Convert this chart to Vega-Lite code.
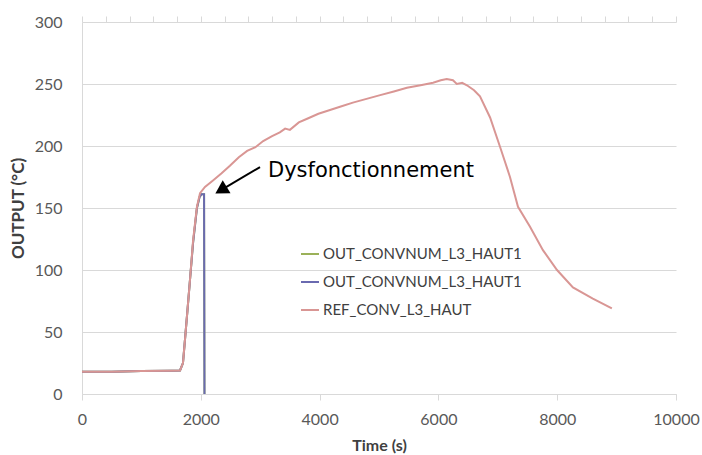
{
  "$schema": "https://vega.github.io/schema/vega-lite/v6.json",
  "width": 594,
  "height": 372,
  "autosize": "none",
  "padding": {"left": 82, "top": 22, "right": 26, "bottom": 61},
  "background": "white",
  "config": {
    "view": {"stroke": null},
    "font": "Lato"
  },
  "resolve": {"axis": {"x": "independent"}},
  "datasets": {
    "series": [
      {"serie": "OUT_CONVNUM_L3_HAUT1 (a)", "t": 0, "v": 18},
      {"serie": "OUT_CONVNUM_L3_HAUT1 (a)", "t": 500, "v": 18},
      {"serie": "OUT_CONVNUM_L3_HAUT1 (a)", "t": 1000, "v": 18.5},
      {"serie": "OUT_CONVNUM_L3_HAUT1 (a)", "t": 1500, "v": 18.8},
      {"serie": "OUT_CONVNUM_L3_HAUT1 (a)", "t": 1650, "v": 19},
      {"serie": "OUT_CONVNUM_L3_HAUT1 (a)", "t": 1700, "v": 25},
      {"serie": "OUT_CONVNUM_L3_HAUT1 (a)", "t": 1734, "v": 44},
      {"serie": "OUT_CONVNUM_L3_HAUT1 (a)", "t": 1780, "v": 70},
      {"serie": "OUT_CONVNUM_L3_HAUT1 (a)", "t": 1818, "v": 92},
      {"serie": "OUT_CONVNUM_L3_HAUT1 (a)", "t": 1870, "v": 122},
      {"serie": "OUT_CONVNUM_L3_HAUT1 (a)", "t": 1935, "v": 150},
      {"serie": "OUT_CONVNUM_L3_HAUT1 (a)", "t": 1980, "v": 159},
      {"serie": "OUT_CONVNUM_L3_HAUT1 (a)", "t": 2010, "v": 161},
      {"serie": "OUT_CONVNUM_L3_HAUT1 (a)", "t": 2055, "v": 161},
      {"serie": "OUT_CONVNUM_L3_HAUT1 (a)", "t": 2062, "v": 0},
      {"serie": "OUT_CONVNUM_L3_HAUT1 (b)", "t": 0, "v": 18},
      {"serie": "OUT_CONVNUM_L3_HAUT1 (b)", "t": 500, "v": 18},
      {"serie": "OUT_CONVNUM_L3_HAUT1 (b)", "t": 1000, "v": 18.5},
      {"serie": "OUT_CONVNUM_L3_HAUT1 (b)", "t": 1500, "v": 18.8},
      {"serie": "OUT_CONVNUM_L3_HAUT1 (b)", "t": 1650, "v": 19},
      {"serie": "OUT_CONVNUM_L3_HAUT1 (b)", "t": 1700, "v": 25},
      {"serie": "OUT_CONVNUM_L3_HAUT1 (b)", "t": 1734, "v": 44},
      {"serie": "OUT_CONVNUM_L3_HAUT1 (b)", "t": 1780, "v": 70},
      {"serie": "OUT_CONVNUM_L3_HAUT1 (b)", "t": 1818, "v": 92},
      {"serie": "OUT_CONVNUM_L3_HAUT1 (b)", "t": 1870, "v": 122},
      {"serie": "OUT_CONVNUM_L3_HAUT1 (b)", "t": 1935, "v": 150},
      {"serie": "OUT_CONVNUM_L3_HAUT1 (b)", "t": 1980, "v": 159},
      {"serie": "OUT_CONVNUM_L3_HAUT1 (b)", "t": 2010, "v": 161},
      {"serie": "OUT_CONVNUM_L3_HAUT1 (b)", "t": 2055, "v": 161},
      {"serie": "OUT_CONVNUM_L3_HAUT1 (b)", "t": 2062, "v": 0},
      {"serie": "REF_CONV_L3_HAUT", "t": 0, "v": 18},
      {"serie": "REF_CONV_L3_HAUT", "t": 500, "v": 18},
      {"serie": "REF_CONV_L3_HAUT", "t": 1000, "v": 18.5},
      {"serie": "REF_CONV_L3_HAUT", "t": 1500, "v": 18.8},
      {"serie": "REF_CONV_L3_HAUT", "t": 1650, "v": 19},
      {"serie": "REF_CONV_L3_HAUT", "t": 1700, "v": 25},
      {"serie": "REF_CONV_L3_HAUT", "t": 1734, "v": 44},
      {"serie": "REF_CONV_L3_HAUT", "t": 1780, "v": 70},
      {"serie": "REF_CONV_L3_HAUT", "t": 1818, "v": 92},
      {"serie": "REF_CONV_L3_HAUT", "t": 1870, "v": 124},
      {"serie": "REF_CONV_L3_HAUT", "t": 1935, "v": 151},
      {"serie": "REF_CONV_L3_HAUT", "t": 1987, "v": 162},
      {"serie": "REF_CONV_L3_HAUT", "t": 2070, "v": 167},
      {"serie": "REF_CONV_L3_HAUT", "t": 2200, "v": 172},
      {"serie": "REF_CONV_L3_HAUT", "t": 2350, "v": 178},
      {"serie": "REF_CONV_L3_HAUT", "t": 2490, "v": 184},
      {"serie": "REF_CONV_L3_HAUT", "t": 2640, "v": 191},
      {"serie": "REF_CONV_L3_HAUT", "t": 2780, "v": 196},
      {"serie": "REF_CONV_L3_HAUT", "t": 2920, "v": 199},
      {"serie": "REF_CONV_L3_HAUT", "t": 3050, "v": 204},
      {"serie": "REF_CONV_L3_HAUT", "t": 3200, "v": 208},
      {"serie": "REF_CONV_L3_HAUT", "t": 3330, "v": 211},
      {"serie": "REF_CONV_L3_HAUT", "t": 3420, "v": 214},
      {"serie": "REF_CONV_L3_HAUT", "t": 3500, "v": 213},
      {"serie": "REF_CONV_L3_HAUT", "t": 3650, "v": 219},
      {"serie": "REF_CONV_L3_HAUT", "t": 3790, "v": 222},
      {"serie": "REF_CONV_L3_HAUT", "t": 3980, "v": 226},
      {"serie": "REF_CONV_L3_HAUT", "t": 4175, "v": 229},
      {"serie": "REF_CONV_L3_HAUT", "t": 4370, "v": 232},
      {"serie": "REF_CONV_L3_HAUT", "t": 4560, "v": 235},
      {"serie": "REF_CONV_L3_HAUT", "t": 4790, "v": 238},
      {"serie": "REF_CONV_L3_HAUT", "t": 5020, "v": 241},
      {"serie": "REF_CONV_L3_HAUT", "t": 5250, "v": 244},
      {"serie": "REF_CONV_L3_HAUT", "t": 5470, "v": 247},
      {"serie": "REF_CONV_L3_HAUT", "t": 5700, "v": 249},
      {"serie": "REF_CONV_L3_HAUT", "t": 5910, "v": 251},
      {"serie": "REF_CONV_L3_HAUT", "t": 6040, "v": 253},
      {"serie": "REF_CONV_L3_HAUT", "t": 6140, "v": 254},
      {"serie": "REF_CONV_L3_HAUT", "t": 6245, "v": 253},
      {"serie": "REF_CONV_L3_HAUT", "t": 6310, "v": 250},
      {"serie": "REF_CONV_L3_HAUT", "t": 6400, "v": 251},
      {"serie": "REF_CONV_L3_HAUT", "t": 6480, "v": 249},
      {"serie": "REF_CONV_L3_HAUT", "t": 6600, "v": 245},
      {"serie": "REF_CONV_L3_HAUT", "t": 6700, "v": 240},
      {"serie": "REF_CONV_L3_HAUT", "t": 6870, "v": 223},
      {"serie": "REF_CONV_L3_HAUT", "t": 7040, "v": 199},
      {"serie": "REF_CONV_L3_HAUT", "t": 7205, "v": 175},
      {"serie": "REF_CONV_L3_HAUT", "t": 7340, "v": 151},
      {"serie": "REF_CONV_L3_HAUT", "t": 7540, "v": 135},
      {"serie": "REF_CONV_L3_HAUT", "t": 7760, "v": 116},
      {"serie": "REF_CONV_L3_HAUT", "t": 7997, "v": 100},
      {"serie": "REF_CONV_L3_HAUT", "t": 8265, "v": 86},
      {"serie": "REF_CONV_L3_HAUT", "t": 8600, "v": 77},
      {"serie": "REF_CONV_L3_HAUT", "t": 8920, "v": 69}
    ]
  },
  "layer": [
    {
      "data": {"name": "series"},
      "transform": [{"filter": "datum.serie === 'OUT_CONVNUM_L3_HAUT1 (a)'"}],
      "mark": {"type": "line", "strokeWidth": 2},
      "encoding": {
        "x": {"field": "t", "type": "quantitative", "scale": {"domain": [0, 10000], "nice": false},
          "axis": {"title": "Time (s)", "values": [0, 2000, 4000, 6000, 8000, 10000],
            "labelOverlap": false, "labelFlush": false,
            "grid": false, "domainColor": "#d9d9d9", "tickColor": "#d9d9d9", "tickSize": 6,
            "labelFontSize": 16, "labelColor": "#595959", "labelPadding": 11, "format": "d",
            "titleFontSize": 16, "titleFontWeight": "bold", "titleColor": "#404040", "titlePadding": 10}},
        "y": {"field": "v", "type": "quantitative", "scale": {"domain": [0, 300], "nice": false},
          "axis": {"title": "OUTPUT (°C)", "values": [0,50,100,150,200,250,300], "grid": true, "gridColor": "#d9d9d9",
            "domainColor": "#d9d9d9", "ticks": false, "labelFontSize": 16, "labelColor": "#595959", "labelPadding": 20,
            "titleFontSize": 17, "titleFontWeight": "bold", "titleColor": "#404040", "titlePadding": 7}},
        "color": {"field": "serie", "type": "nominal",
          "scale": {"domain": ["OUT_CONVNUM_L3_HAUT1 (a)", "OUT_CONVNUM_L3_HAUT1 (b)", "REF_CONV_L3_HAUT"], "range": ["#9bb159", "#6a6ab0", "#d99694"]},
          "legend": {"title": null, "orient": "none", "legendX": 218, "legendY": 222, "symbolType": "stroke", "symbolSize": 324, "symbolStrokeWidth": 2,
            "labelExpr": "datum.value === 'REF_CONV_L3_HAUT' ? datum.value : 'OUT_CONVNUM_L3_HAUT1'",
            "labelFontSize": 15, "labelColor": "#404040", "labelOffset": 3, "rowPadding": 10, "padding": 0, "labelLimit": 400}}
      }
    },
    {
      "data": {"name": "series"},
      "transform": [{"filter": "datum.serie === 'OUT_CONVNUM_L3_HAUT1 (b)'"}],
      "mark": {"type": "line", "strokeWidth": 2},
      "encoding": {
        "x": {"field": "t", "type": "quantitative",
          "axis": {"title": null, "values": [0,400,800,1200,1600,2000,2400,2800,3200,3600,4000,4400,4800,5200,5600,6000,6400,6800,7200,7600,8000,8400,8800,9200,9600,10000],
            "labels": false, "domain": false, "grid": false, "tickColor": "#d9d9d9", "tickSize": 6}},
        "y": {"field": "v", "type": "quantitative"},
        "color": {"field": "serie", "type": "nominal"}
      }
    },
    {
      "data": {"name": "series"},
      "transform": [{"filter": "datum.serie === 'REF_CONV_L3_HAUT'"}],
      "mark": {"type": "line", "strokeWidth": 2},
      "encoding": {
        "x": {"field": "t", "type": "quantitative", "axis": null},
        "y": {"field": "v", "type": "quantitative"},
        "color": {"field": "serie", "type": "nominal"}
      }
    },
    {
      "data": {"values": [{"t": 2997, "v": 183, "t2": 2340, "v2": 164.5}]},
      "mark": {"type": "rule", "color": "black", "strokeWidth": 2},
      "encoding": {
        "x": {"field": "t", "type": "quantitative", "axis": null},
        "y": {"field": "v", "type": "quantitative"},
        "x2": {"field": "t2"},
        "y2": {"field": "v2"}
      }
    },
    {
      "data": {"values": [{"t": 2340, "v": 164.5}]},
      "mark": {"type": "point", "shape": "triangle-up", "filled": true, "color": "black", "opacity": 1, "size": 230, "angle": 239},
      "encoding": {
        "x": {"field": "t", "type": "quantitative", "axis": null},
        "y": {"field": "v", "type": "quantitative"}
      }
    },
    {
      "data": {"values": [{"t": 3131, "v": 180, "label": "Dysfonctionnement"}]},
      "mark": {"type": "text", "align": "left", "baseline": "middle", "font": "DejaVu Sans", "fontSize": 21, "color": "black"},
      "encoding": {
        "x": {"field": "t", "type": "quantitative", "axis": null},
        "y": {"field": "v", "type": "quantitative"},
        "text": {"field": "label"}
      }
    }
  ]
}
